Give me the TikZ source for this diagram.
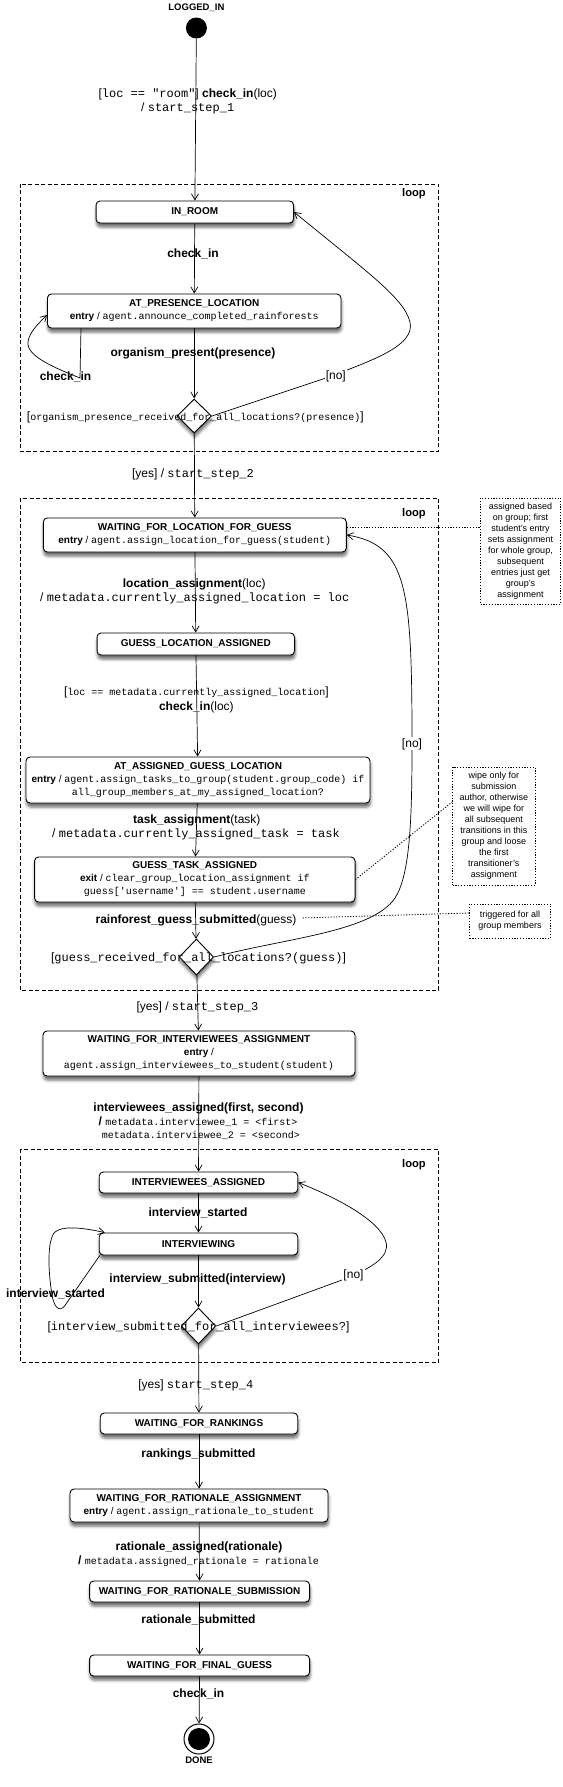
\documentclass[tikz,border=0pt]{standalone}
\usepackage{fontspec}
\setmainfont{Liberation Sans}
\setsansfont{Liberation Sans}
\setmonofont{Liberation Mono}
\usetikzlibrary{arrows.meta,shapes.geometric,shadows.blur}
\newcommand\monoL[1]{{\ttfamily\mdseries\fontsize{12}{14}\selectfont #1}}
\newcommand\monoS[1]{{\ttfamily\mdseries\fontsize{10}{13}\selectfont #1}}
\newcommand\regL[1]{{\mdseries #1}}
\tikzset{
  shadowed/.style={blur shadow={shadow xshift=0.5pt, shadow yshift=-4pt, shadow blur radius=3pt, shadow opacity=60}},
  state/.style={draw, line width=0.9pt, rounded corners=4pt, fill=white, inner sep=0pt, align=center,
     font=\bfseries\fontsize{10}{13}\selectfont, shadowed},
  choice/.style={diamond, draw, line width=0.9pt, fill=white, inner sep=0pt, minimum width=34.5pt, minimum height=35pt, shadowed},
  lab/.style={font=\bfseries\fontsize{12}{14}\selectfont, inner sep=0pt, anchor=base},
  rlab/.style={font=\mdseries\fontsize{12}{14}\selectfont, inner sep=0pt, anchor=base},
  nolab/.style={rlab, fill=white, inner sep=1pt},
  looplab/.style={font=\bfseries\fontsize{11.2}{13}\selectfont, inner sep=0pt, anchor=base},
  loopbox/.style={draw, line width=0.8pt, dash pattern=on 4pt off 2.5pt},
  note/.style={draw, line width=0.8pt, dash pattern=on 1.2pt off 1.6pt, align=center, inner sep=0pt, font=\fontsize{9}{11}\selectfont},
  dotline/.style={line width=0.8pt, dash pattern=on 1.2pt off 1.6pt},
  arr/.style={line width=0.7pt, -{Straight Barb[length=6pt,width=7pt]}},
  pseudo/.style={font=\bfseries\fontsize{9.5}{11}\selectfont, inner sep=0pt, anchor=base},
}
\begin{document}
\begin{tikzpicture}[x=1pt,y=-1pt]
\useasboundingbox (0,0) rectangle (562,1787);
% loop frames
\draw[loopbox] (20.5,184) rectangle (438.5,451);
\draw[loopbox] (20.5,498) rectangle (438.5,990);
\draw[loopbox] (20.5,1149) rectangle (438.5,1362);
\node[looplab] (lp1) at (414,197) {loop};
\node[looplab] (lp2) at (414,516) {loop};
\node[looplab] (lp3) at (414,1167) {loop};
% states
\node[pseudo] (tLogged) at (196.4,10.5) {LOGGED\_IN};
\node[circle, fill=black, minimum size=21pt, inner sep=0pt] (init) at (196.4,28) {};
\node[state, minimum width=197.5pt, minimum height=22pt] (inroom) at (194.8,212) {IN\_ROOM};
\node[state, minimum width=293.5pt, minimum height=34pt] (atpres) at (194.2,311) {AT\_PRESENCE\_LOCATION\\ entry {\mdseries/} \monoS{agent.announce\_completed\_rainforests}};
\node[choice, minimum height=34pt] (d1) at (194.2,416) {};
\node[state, minimum width=303pt, minimum height=34pt] (wfl) at (194.8,535) {WAITING\_FOR\_LOCATION\_FOR\_GUESS\\ entry {\mdseries/} \monoS{agent.assign\_location\_for\_guess(student)}};
\node[state, minimum width=197.5pt, minimum height=22pt] (gla) at (195.8,644) {GUESS\_LOCATION\_ASSIGNED};
\node[state, minimum width=344pt, minimum height=46pt] (aagl) at (198,780) {AT\_ASSIGNED\_GUESS\_LOCATION\\ entry {\mdseries/} \monoS{agent.assign\_tasks\_to\_group(student.group\_code) if}\\ \monoS{all\_group\_members\_at\_my\_assigned\_location?}};
\node[state, minimum width=320.5pt, minimum height=45pt] (gta) at (194.8,879.5) {GUESS\_TASK\_ASSIGNED\\ exit {\mdseries/} \monoS{clear\_group\_location\_assignment if}\\ \monoS{guess[\textquotesingle username\textquotesingle] == student.username}};
\node[choice, minimum height=36pt] (d2) at (196.4,957) {};
\node[state, minimum width=312pt, minimum height=45pt] (wfia) at (199,1053.5) {WAITING\_FOR\_INTERVIEWEES\_ASSIGNMENT\\ entry {\mdseries/}\\ \monoS{agent.assign\_interviewees\_to\_student(student)}};
\node[state, minimum width=198.5pt, minimum height=21pt] (ia) at (198.5,1182.5) {INTERVIEWEES\_ASSIGNED};
\node[state, minimum width=198.5pt, minimum height=22pt] (iv) at (198.5,1244) {INTERVIEWING};
\node[choice, minimum height=36pt] (d3) at (198.5,1326) {};
\node[state, minimum width=197.5pt, minimum height=21pt] (wfr) at (199,1423.5) {WAITING\_FOR\_RANKINGS};
\node[state, minimum width=258pt, minimum height=33pt] (wfra) at (199,1505.5) {WAITING\_FOR\_RATIONALE\_ASSIGNMENT\\ entry {\mdseries/} \monoS{agent.assign\_rationale\_to\_student}};
\node[state, minimum width=220pt, minimum height=21pt] (wfrs) at (199.6,1591.5) {WAITING\_FOR\_RATIONALE\_SUBMISSION};
\node[state, minimum width=220pt, minimum height=21pt] (wffg) at (199.6,1665.5) {WAITING\_FOR\_FINAL\_GUESS};
\node[circle, draw, line width=1pt, fill=white, minimum size=30pt, inner sep=0pt] (final) at (199,1739) {};
\node[circle, fill=black, minimum size=22pt, inner sep=0pt] (finalin) at (final) {};
\node[pseudo] (tDone) at (199,1763) {DONE};
% notes
\node[note, minimum width=80pt, minimum height=106pt] (n1) at (520.5,551) {assigned based\\on group; first\\student's entry\\sets assignment\\for whole group,\\subsequent\\entries just get\\group's\\assignment};
\node[note, minimum width=82.5pt, minimum height=118pt] (n2) at (493.8,826) {wipe only for\\submission\\author, otherwise\\we will wipe for\\all subsequent\\transitions in this\\group and loose\\the first\\transitioner's\\assignment};
\node[note, minimum width=81pt, minimum height=34pt] (n3) at (510,921) {triggered for all\\group members};
% transitions
\draw[arr] (init) -- (inroom);
\draw[arr] (inroom) -- (atpres);
\draw[arr] (atpres) -- (d1);
\draw[arr] ([xshift=34pt]atpres.south west) -- (80,378) .. controls (55,368) and (26,356) .. (28,342) .. controls (29,332) and (40,322) .. ([yshift=-4pt]atpres.west);
\draw[arr] (d1.east) -- (323,379) .. controls (377,359) and (415,345) .. (410,322) .. controls (404,298) and (367,272) .. (inroom.east);
\draw[arr] (d1) -- (wfl);
\draw[arr] (wfl) -- (gla);
\draw[arr] (gla) -- (aagl);
\draw[arr] (aagl) -- (gta);
\draw[arr] (gta) -- (d2);
\draw[arr] (d2.east) .. controls (286,938) and (372,932) .. (395,898) .. controls (410,875) and (412,820) .. (412,745) .. controls (412,590) and (408,545) .. (wfl.east);
\draw[arr] (d2) -- (wfia);
\draw[arr] (wfia) -- (ia);
\draw[arr] (ia) -- (iv);
\draw[arr] (iv) -- (d3);
\draw[arr] ([xshift=1pt]iv.south west) -- (66,1304) .. controls (62,1311) and (55,1312) .. (52,1295) .. controls (48,1270) and (47,1240) .. (55,1232) .. controls (62,1226) and (80,1227) .. ([xshift=6pt]iv.north west);
\draw[arr] (d3.east) -- (342,1280) .. controls (372,1268) and (390,1257) .. (386,1242) .. controls (380,1220) and (335,1197) .. (ia.east);
\draw[arr] (d3) -- (wfr);
\draw[arr] (wfr) -- (wfra);
\draw[arr] (wfra) -- (wfrs);
\draw[arr] (wfrs) -- (wffg);
\draw[arr] (wffg) -- (final);
% labels
\node[lab] (l0a) at (187.7,98) {\regL{[}\monoL{loc == "room"}\regL{]} check\_in\regL{(loc)}};
\node[lab] (l0b) at (187.7,112) {\regL{/} \monoL{start\_step\_1}};
\node[lab] (l1) at (193,258) {check\_in};
\node[lab] (l2) at (193,356) {organism\_present(presence)};
\node[lab] (l3) at (65.5,380) {check\_in};
\node[rlab] (g1) at (195.3,420.5) {[\monoS{organism\_presence\_received\_for\_all\_locations?(presence)}]};
\node[nolab] (no1) at (335.8,379) {[no]};
\node[rlab] (l4) at (193,477) {[yes] / \monoL{start\_step\_2}};
\node[lab] (l5a) at (194.2,587) {location\_assignment\regL{(loc)}};
\node[lab] (l5b) at (194.8,601) {\regL{/} \monoL{metadata.currently\_assigned\_location = loc}};
\node[rlab] (l6a) at (196.4,695.5) {[\monoS{loc == metadata.currently\_assigned\_location}]};
\node[lab] (l6b) at (196.4,710) {check\_in\regL{(loc)}};
\node[nolab] (no2) at (412,747) {[no]};
\node[lab] (l7a) at (196.8,823) {task\_assignment\regL{(task)}};
\node[lab] (l7b) at (196,837) {\regL{/} \monoL{metadata.currently\_assigned\_task = task}};
\node[lab] (l8) at (196,923) {rainforest\_guess\_submitted\regL{(guess)}};
\node[rlab] (g2) at (198.5,961) {[\monoL{guess\_received\_for\_all\_locations?(guess)}]};
\node[rlab] (l9) at (197.5,1010) {[yes] / \monoL{start\_step\_3}};
\node[lab] (l10a) at (198.5,1111) {interviewees\_assigned(first, second)};
\node[lab] (l10b) at (198,1125.5) {/ \monoS{metadata.interviewee\_1 = <first>}};
\node[lab] (l10c) at (201,1138.5) {\monoS{metadata.interviewee\_2 = <second>}};
\node[lab] (l11) at (198,1216) {interview\_started};
\node[lab] (l12) at (197.5,1282) {interview\_submitted(interview)};
\node[lab] (l13) at (55.5,1297) {interview\_started};
\node[rlab] (g3) at (198.5,1330) {[\monoL{interview\_submitted\_for\_all\_interviewees?}]};
\node[nolab] (no3) at (353.5,1278) {[no]};
\node[rlab] (l14) at (195.8,1388) {[yes] \monoL{start\_step\_4}};
\node[lab] (l15) at (198.5,1457) {rankings\_submitted};
\node[lab] (l16a) at (199,1550) {rationale\_assigned(rationale)};
\node[lab] (l16b) at (198.5,1564.5) {/ \monoS{metadata.assigned\_rationale = rationale}};
\node[lab] (l17) at (198.5,1623) {rationale\_submitted};
\node[lab] (l18) at (198.5,1697) {check\_in};
% note connectors
\draw[dotline] ([yshift=8pt]wfl.east) -- ([yshift=8pt]wfl.east -| n1.west);
\draw[dotline] (gta.east) -- ([yshift=24pt]n2.west);
\draw[dotline] ([xshift=6pt,yshift=2pt]l8.east) -- ([yshift=8pt]n3.west);
\end{tikzpicture}
\end{document}
